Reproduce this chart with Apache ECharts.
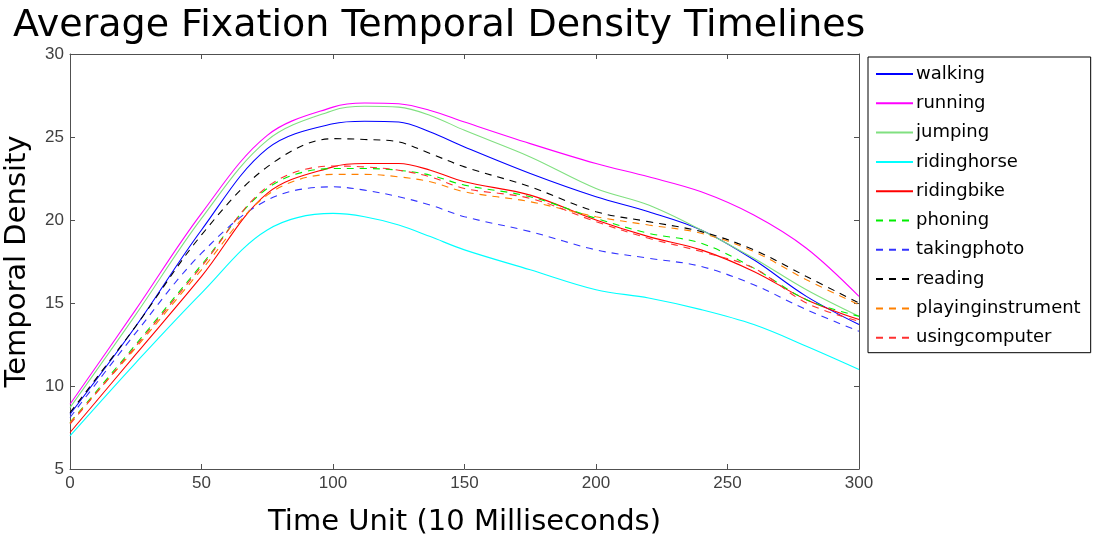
<!DOCTYPE html>
<html>
<head>
<meta charset="utf-8">
<script src="https://cdn.jsdelivr.net/npm/echarts@6/dist/echarts.min.js"></script>
<style>
  html, body { margin: 0; padding: 0; background: #fff; }
  #chart { width: 1096px; height: 537px; }
</style>
</head>
<body>
<div id="chart"></div>
<script>
// ---- data ----
const timeUnits = [0, 25, 50, 75, 100, 112, 125, 137, 150, 175, 200, 220, 240, 260, 280, 300];

const walking           = [8.3, 13.6, 19.4, 24.3, 25.8, 25.95, 25.9, 25.3, 24.4, 22.8, 21.4, 20.5, 19.4, 17.6, 15.4, 13.7];
const running           = [8.9, 14.6, 20.4, 25.1, 26.8, 27.05, 27.0, 26.6, 25.9, 24.6, 23.4, 22.6, 21.7, 20.3, 18.3, 15.4];
const jumping           = [8.7, 14.3, 20.1, 24.8, 26.6, 26.85, 26.8, 26.3, 25.4, 23.8, 21.9, 20.9, 19.4, 17.7, 15.8, 14.2];
const ridinghorse       = [7.0, 11.4, 15.6, 19.4, 20.4, 20.2, 19.7, 19.0, 18.2, 17.0, 15.8, 15.3, 14.6, 13.7, 12.4, 11.0];
const ridingbike        = [7.2, 11.9, 16.6, 21.6, 23.2, 23.4, 23.4, 23.0, 22.3, 21.5, 20.0, 19.0, 18.2, 16.9, 15.2, 14.0];
const phoning           = [7.8, 12.5, 17.3, 21.9, 23.1, 23.1, 23.0, 22.7, 22.1, 21.4, 20.1, 19.2, 18.6, 17.1, 15.2, 14.2];
const takingphoto       = [8.1, 13.2, 18.0, 21.2, 22.0, 21.8, 21.4, 20.9, 20.2, 19.3, 18.2, 17.7, 17.2, 16.1, 14.6, 13.3];
const reading           = [8.4, 13.6, 19.1, 23.2, 24.9, 24.85, 24.7, 24.0, 23.2, 22.0, 20.5, 19.9, 19.3, 18.2, 16.6, 15.0];
const playinginstrument = [7.8, 12.3, 17.0, 21.5, 22.75, 22.75, 22.6, 22.3, 21.7, 21.1, 20.2, 19.7, 19.2, 18.1, 16.4, 14.9];
const usingcomputer     = [7.7, 12.4, 17.2, 22.0, 23.25, 23.2, 23.0, 22.6, 21.9, 21.3, 19.9, 18.9, 18.1, 17.1, 15.0, 13.9];

const xTicks = [0, 50, 100, 150, 200, 250, 300];
const yTicks = [5, 10, 15, 20, 25, 30];

const seriesDefs = [
  { name: 'walking',           values: walking,           color: '#0000ff', dash: 'solid' },
  { name: 'running',           values: running,           color: '#ff00ff', dash: 'solid' },
  { name: 'jumping',           values: jumping,           color: '#80e080', dash: 'solid' },
  { name: 'ridinghorse',       values: ridinghorse,       color: '#00ffff', dash: 'solid' },
  { name: 'ridingbike',        values: ridingbike,        color: '#ff0000', dash: 'solid' },
  { name: 'phoning',           values: phoning,           color: '#00ee00', dash: [7, 6] },
  { name: 'takingphoto',       values: takingphoto,       color: '#3333ff', dash: [7, 6] },
  { name: 'reading',           values: reading,           color: '#000000', dash: [7, 6] },
  { name: 'playinginstrument', values: playinginstrument, color: '#ff8000', dash: [7, 6] },
  { name: 'usingcomputer',     values: usingcomputer,     color: '#ff3030', dash: [7, 6] }
];

const axisColor = '#505050';
const labelFont = 'Liberation Sans';

const chart = echarts.init(document.getElementById('chart'), null, { renderer: 'canvas' });

const baseX = {
  type: 'value', min: xTicks[0], max: xTicks[xTicks.length - 1], interval: 50,
  axisLine: { show: true, onZero: false, lineStyle: { color: axisColor, width: 1 } },
  axisTick: { show: true, inside: true, length: 5, lineStyle: { color: axisColor } },
  splitLine: { show: false }
};
const baseY = {
  type: 'value', min: yTicks[0], max: yTicks[yTicks.length - 1], interval: 5,
  axisLine: { show: true, onZero: false, lineStyle: { color: axisColor, width: 1 } },
  axisTick: { show: true, inside: true, length: 5, lineStyle: { color: axisColor } },
  splitLine: { show: false }
};

chart.setOption({
  animation: false,
  backgroundColor: '#ffffff',
  title: {
    text: 'Average Fixation Temporal Density Timelines',
    left: 8, top: 2,
    textStyle: { fontFamily: 'DejaVu Sans', fontSize: 38, fontWeight: 'normal', color: '#000' }
  },
  grid: { left: 70, top: 54, right: 237, bottom: 68, containLabel: false, outerBoundsMode: 'none' },
  legend: {
    orient: 'vertical',
    left: 868, top: 57,
    padding: [7, 10, 5, 7],
    itemWidth: 37, itemHeight: 14, itemGap: 9.3,
    borderColor: '#000', borderWidth: 1, backgroundColor: '#fff',
    itemStyle: { opacity: 0 },
    textStyle: { fontFamily: 'DejaVu Sans', fontSize: 18, color: '#000', lineHeight: 20, padding: [0, 0, 0, -2] },
    data: seriesDefs.map(s => s.name)
  },
  xAxis: [
    Object.assign({}, baseX, {
      position: 'bottom',
      name: 'Time Unit (10 Milliseconds)',
      nameLocation: 'middle', nameGap: 39,
      nameTextStyle: { fontFamily: 'DejaVu Sans', fontSize: 29, color: '#000' },
      axisLabel: { show: true, margin: 6, fontFamily: labelFont, fontSize: 17, color: '#404040' }
    }),
    Object.assign({}, baseX, { position: 'top', axisLabel: { show: false } })
  ],
  yAxis: [
    Object.assign({}, baseY, {
      position: 'left',
      name: 'Temporal Density',
      nameLocation: 'middle', nameGap: 38,
      nameTextStyle: { fontFamily: 'DejaVu Sans', fontSize: 29, color: '#000' },
      axisLabel: { show: true, margin: 6, fontFamily: labelFont, fontSize: 17, color: '#404040' }
    }),
    Object.assign({}, baseY, { position: 'right', axisLabel: { show: false } })
  ],
  series: seriesDefs.map(s => ({
    name: s.name,
    type: 'line',
    xAxisIndex: 0, yAxisIndex: 0,
    data: timeUnits.map((t, i) => [t, s.values[i]]),
    smooth: 0.35,
    symbol: 'none', showSymbol: false,
    lineStyle: { color: s.color, width: 1.1, type: s.dash },
    itemStyle: { color: s.color },
    emphasis: { disabled: true }
  }))
});
</script>
</body>
</html>
